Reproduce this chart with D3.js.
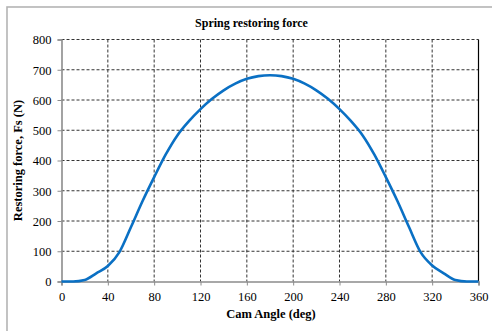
<!DOCTYPE html>
<html>
<head>
<meta charset="utf-8">
<script src="https://cdn.jsdelivr.net/npm/d3@7"></script>
<style>
  html, body { margin: 0; padding: 0; background: #fff; }
  svg { display: block; }
  text { font-family: "Liberation Serif", "Times New Roman", serif; fill: #000; }
</style>
</head>
<body>
<svg id="chart" width="492" height="331"></svg>
<script>
// ---- data ----
const camAngle = [0, 10, 20, 30, 40, 50, 60, 70, 80, 90, 100, 110, 120, 130, 140, 150, 160, 170, 180,
                  190, 200, 210, 220, 230, 240, 250, 260, 270, 280, 290, 300, 310, 320, 330, 340, 350, 360];
const restoringForce = [0, 0, 5, 27, 51, 97, 180, 266, 345, 420, 483, 530, 570, 604, 632, 654, 670, 679, 682,
                        679, 670, 654, 632, 604, 570, 530, 483, 420, 345, 266, 180, 97, 53, 27, 5, 0, 0];
const xTicks = [0, 40, 80, 120, 160, 200, 240, 280, 320, 360];
const yTicks = [0, 100, 200, 300, 400, 500, 600, 700, 800];
const titleText = "Spring restoring force";
const xLabel = "Cam Angle (deg)";
const yLabel = "Restoring force, Fs (N)";

// ---- layout ----
const svg = d3.select("#chart");
const L = 61.5, R = 478.5, T = 39.5, B = 281.5;

const x = d3.scaleLinear().domain([0, 360]).range([L, R]);
const y = d3.scaleLinear().domain([0, 800]).range([B, T]);

// outer frame (clipped by window)
svg.append("rect")
  .attr("x", 7).attr("y", 7).attr("width", 600).attr("height", 500)
  .attr("fill", "none").attr("stroke", "#b4b4b4").attr("stroke-width", 1.6);

// grid
const g = svg.append("g");
g.selectAll(".hg").data(yTicks.filter(d => d > 0)).enter().append("line")
  .attr("x1", L).attr("x2", R).attr("y1", d => y(d)).attr("y2", d => y(d))
  .attr("stroke", "#333").attr("stroke-width", 1).attr("stroke-dasharray", "3,2");
g.selectAll(".vg").data(xTicks.filter(d => d > 0 && d < 360)).enter().append("line")
  .attr("x1", d => x(d)).attr("x2", d => x(d)).attr("y1", T).attr("y2", B)
  .attr("stroke", "#333").attr("stroke-width", 1).attr("stroke-dasharray", "3,2");

// right border solid black
svg.append("line").attr("x1", R).attr("x2", R).attr("y1", T).attr("y2", B)
  .attr("stroke", "#000").attr("stroke-width", 1.2);

// axes
const xAxis = d3.axisBottom(x).tickValues(xTicks).tickSize(4).tickPadding(7).tickFormat(d3.format("d"));
const yAxis = d3.axisLeft(y).tickValues(yTicks).tickSize(4).tickPadding(6).tickFormat(d3.format("d"));

const gx = svg.append("g").attr("transform", `translate(0,${B})`).call(xAxis);
const gy = svg.append("g").attr("transform", `translate(${L},0)`).call(yAxis);
[gx, gy].forEach(a => {
  a.select(".domain").attr("stroke", "#8c8c8c").attr("stroke-width", 1.6);
  a.selectAll(".tick line").attr("stroke", "#8c8c8c");
  a.selectAll(".tick text").style("font-family", "'Liberation Serif', 'Times New Roman', serif")
    .style("font-size", "12.5px").attr("fill", "#000");
});
gy.selectAll(".tick text").attr("dy", "0.35em");

// line
const line = d3.line()
  .x((d, i) => x(camAngle[i]))
  .y(d => y(d))
  .curve(d3.curveMonotoneX);
svg.append("path").datum(restoringForce)
  .attr("d", line)
  .attr("fill", "none").attr("stroke", "#0A70C4").attr("stroke-width", 2.6)
  .attr("stroke-linejoin", "round");

// title
svg.append("text").attr("x", 251.5).attr("y", 27).attr("text-anchor", "middle")
  .style("font-size", "12px").style("font-weight", "bold").text(titleText);

// x label
svg.append("text").attr("x", 271).attr("y", 318).attr("text-anchor", "middle")
  .style("font-size", "12.5px").style("font-weight", "bold").text(xLabel);

// y label
svg.append("text").attr("transform", `translate(22,${(T + B) / 2}) rotate(-90)`)
  .attr("text-anchor", "middle")
  .style("font-size", "12.5px").style("font-weight", "bold").text(yLabel);
</script>
</body>
</html>
